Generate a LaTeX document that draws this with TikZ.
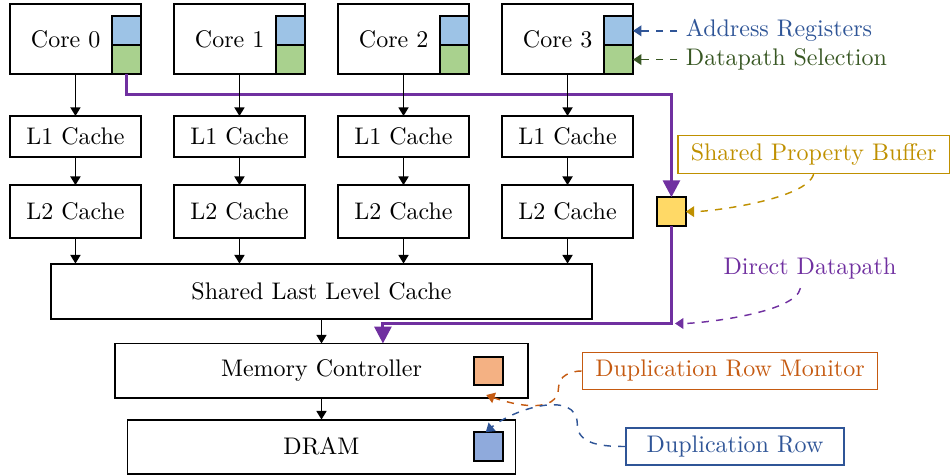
\documentclass[tikz,border=0pt]{standalone}
\usepackage{tikz}
\usetikzlibrary{matrix,arrows.meta,positioning}

\definecolor{regblue}{RGB}{157,195,230}
\definecolor{dsgreen}{RGB}{169,209,142}
\definecolor{spbyellow}{RGB}{255,217,102}
\definecolor{mcorange}{RGB}{244,177,131}
\definecolor{rowblue}{RGB}{143,170,220}
\definecolor{dpurple}{RGB}{112,48,160}
\definecolor{txtblue}{RGB}{47,85,151}
\definecolor{txtgreen}{RGB}{56,87,35}
\definecolor{txtgold}{RGB}{191,144,0}
\definecolor{txtorange}{RGB}{197,90,17}

\begin{document}
\begin{tikzpicture}[x=0.4167pt, y=0.4167pt,
  box/.style={draw, thick, inner sep=3pt, outer sep=0pt},
  reg/.style={draw, thick, minimum size=12pt, inner sep=0pt, outer sep=0pt},
  core/.style={minimum height=29.2pt, execute at end node=\hspace{8.2pt}},
  notebox/.style={draw=#1, text=#1, semithick, inner xsep=5.4pt, minimum height=15.4pt},
  note/.style={draw=#1, dashed, semithick, -{Triangle[width=4.5pt,length=3.5pt]}},
  datapath/.style={draw=dpurple, line width=1.3pt, -{Triangle[width=7pt,length=7pt]}},
  arr/.style={thin, line width=0.6pt, -{Triangle[width=4.2pt,length=3.6pt]}}]
  \useasboundingbox (0,0) rectangle (950,-475);
  \matrix (m) [matrix of nodes, row sep=10.9pt, column sep=12.95pt, inner sep=0pt,
    matrix anchor=north west, nodes={box, minimum width=54.6pt},
    row 1/.style={nodes={core}}, row 2/.style={nodes={minimum height=17.1pt}},
    row 3/.style={nodes={minimum height=22.1pt}}] at (8.5,-2.5)
  {
    Core 0 & Core 1 & Core 2 & Core 3 \\[5.8pt]
    L1 Cache & L1 Cache & L1 Cache & L1 Cache \\
    L2 Cache & L2 Cache & L2 Cache & L2 Cache \\
  };
  \foreach \i in {1,...,4} {
    \node[reg, fill=dsgreen, anchor=south east] (ds\i) at (m-1-\i.south east) {};
    \node[reg, fill=regblue, anchor=south] (ar\i) at (ds\i.north) {};
  }
  \node[reg, fill=spbyellow, right=10pt of m-3-4] (spb) {};
  \node[box, minimum width=225.4pt, minimum height=22.9pt, below=10pt of m] (llc) {Shared Last Level Cache};
  \node[box, minimum width=172.1pt, minimum height=22.9pt, below=10.4pt of llc] (mc) {Memory Controller};
  \node[box, minimum width=161.7pt, minimum height=22.5pt, below=8.8pt of mc] (dram) {DRAM};
  \node[reg, fill=mcorange, left=10.4pt of mc.east] (mcsq) {};
  \node[reg, fill=rowblue, left=5.4pt of dram.east] (dramsq) {};

  \node[right=18.5pt of ar4, text=txtblue] (arl) {Address Registers};
  \node[right=18.5pt of ds4, text=txtgreen] (dsl) {Datapath Selection};
  \node[notebox=txtgold] (spbl) at (813.6,-154.5) {Shared Property Buffer};
  \node[text=dpurple] (ddl) at (810,-269) {Direct Datapath};
  \node[notebox=txtorange] (drml) at (730,-371) {Duplication Row Monitor};
  \node[notebox=txtblue, minimum width=90.8pt] (drl) at (735,-446.5) {Duplication Row};
  \coordinate (turn) at (spb.south |- 0,-323.5);

  \draw[datapath] (ds1.south) -- ++(0,-20.5) -| (spb.north);
  \draw[datapath] (spb.south) -- (turn) -| ([xshift=25.6pt]mc.north);
  \foreach \i in {1,...,4}
    \path[arr] (m-1-\i) edge (m-2-\i)
      (m-2-\i) edge (m-3-\i)
      (m-3-\i) edge (m-3-\i |- llc.north);
  \path[arr] (llc) edge (mc)
    (mc) edge (dram);

  \draw[note=txtblue] (arl) -- (ar4);
  \draw[note=txtgreen] (dsl) -- (ds4);
  \draw[note=txtgold] (spbl.south) to[out=-105,in=0,looseness=0.5] (spb.east);
  \draw[note=dpurple] ([xshift=-4pt]ddl.south) to[out=-100,in=0,looseness=0.5] ([xshift=1.5pt]turn);
  \draw[note=txtorange] (drml.west) to[out=180,in=90] ++(-23,-16) to[out=-90,in=-20] ([xshift=-1pt,yshift=-4pt]mcsq.south);
  \draw[note=txtblue] (drl.west) to[out=180,in=-90] ++(-48,22) to[out=90,in=40] ([xshift=-1pt]dramsq.north);
\end{tikzpicture}
\end{document}
